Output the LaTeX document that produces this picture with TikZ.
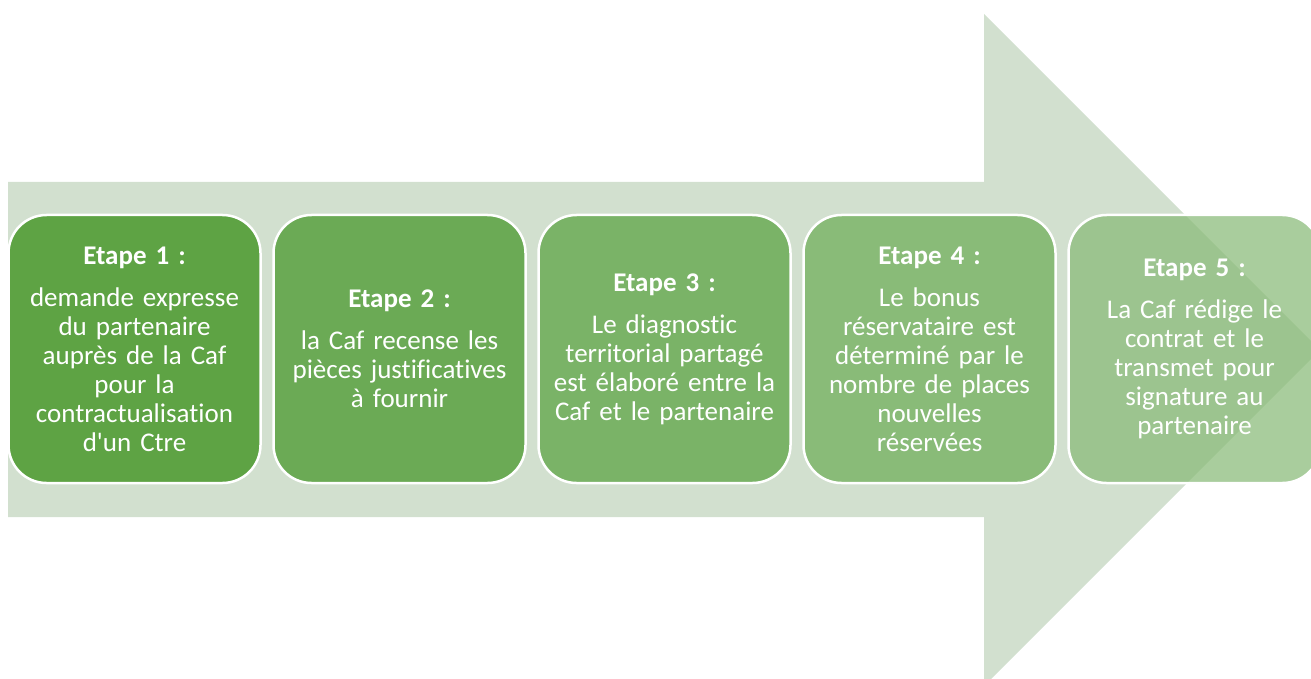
\documentclass[tikz,border=0pt]{standalone}
\usepackage{fontspec}
\setmainfont{Carlito}[Ligatures=NoCommon]
\usepackage{tikz}
\usetikzlibrary{positioning}
\usetikzlibrary{calc}

\definecolor{fleche}{HTML}{D2E0CF}
\definecolor{etapeA}{HTML}{5EA344}
\definecolor{etapeB}{HTML}{6BAA55}
\definecolor{etapeC}{HTML}{7AB367}
\definecolor{etapeD}{HTML}{89BB78}
\definecolor{etapeE}{HTML}{88BA77}

\tikzset{
	etapebox/.style={draw=white,line width=1.25pt,rounded corners=19pt,minimum width=126pt,minimum height=134pt,inner xsep=2pt,text width=118pt,align=center,text=white,font=\fontsize{13.5}{14.5}\selectfont},
}

\begin{document}
\begin{tikzpicture}[x=0.5pt,y=-0.5pt]
	\useasboundingbox (0,0) rectangle (1311,679);
	% grande fleche
	\fill[fleche] (8,182) -- (984,182) -- (984,14) -- (1320,350) -- (984,686) -- (984,517) -- (8,517) -- cycle;
	
	\node[etapebox,fill=etapeA] at (134.5,349) (E1) {\textbf{Etape 1 :}\\[6.5pt] demande expresse\\ du partenaire\\ auprès de la Caf\\ pour la\\ contractualisation\\ d\textquotesingle un Ctre};
	\node[etapebox,fill=etapeB,right=5.25pt of E1] (E2) {\textbf{Etape 2 :}\\[6.5pt] la Caf recense les\\ pièces justificatives\\ à fournir};
	\node[etapebox,fill=etapeC,right=5.25pt of E2] (E3) {\textbf{Etape 3 :}\\[6.5pt] Le diagnostic\\ territorial partagé\\ est élaboré entre la\\ Caf et le partenaire};
	\node[etapebox,fill=etapeD,right=5.25pt of E3] (E4) {\textbf{Etape 4 :}\\[6.5pt] Le bonus\\ réservataire est\\ déterminé par le\\ nombre de places\\ nouvelles\\ réservées};
	\node[etapebox,fill=etapeE,fill opacity=0.72,text opacity=1,right=5.25pt of E4] (E5) {\textbf{Etape 5 :}\\[6.5pt] La Caf rédige le\\ contrat et le\\ transmet pour\\ signature au\\ partenaire};
\end{tikzpicture}
\end{document}
